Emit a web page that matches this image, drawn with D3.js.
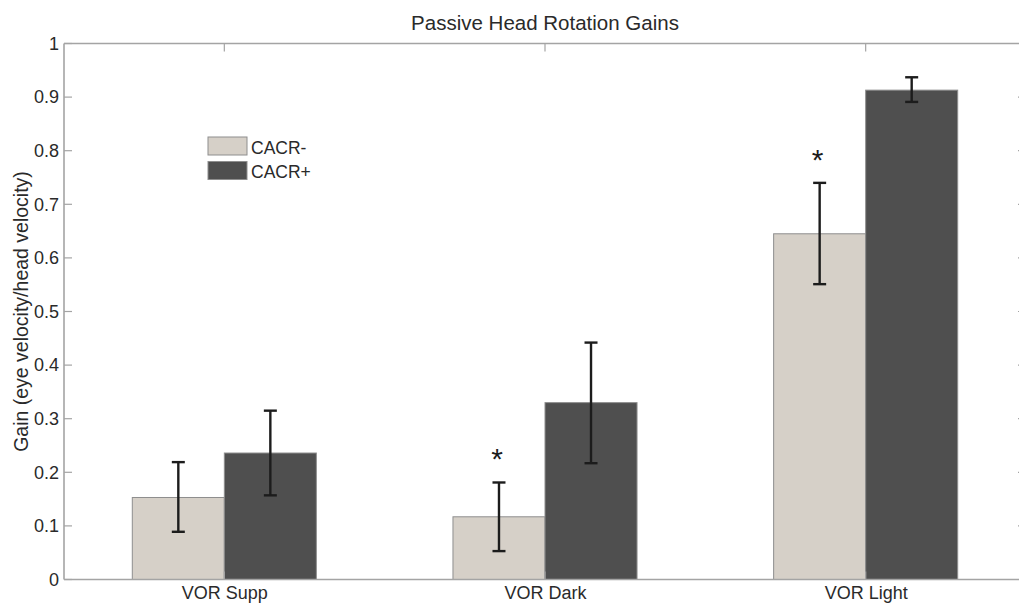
<!DOCTYPE html>
<html>
<head>
<meta charset="utf-8">
<script src="https://cdn.jsdelivr.net/npm/d3@7/dist/d3.min.js"></script>
<style>
  body { margin: 0; background: #fff; }
  svg { display: block; font-family: "Liberation Sans", Arial, Helvetica, sans-serif; }
</style>
</head>
<body>
<svg id="chart" width="1019" height="603"></svg>
<script>
// --- Data ---
const categories = ["VOR Supp", "VOR Dark", "VOR Light"];
const seriesNames = ["CACR-", "CACR+"];
const cacrMinus = [0.153, 0.117, 0.645];
const cacrPlus = [0.236, 0.330, 0.913];
const minusLow = [0.089, 0.053, 0.551];
const minusHigh = [0.219, 0.181, 0.740];
const plusLow = [0.157, 0.217, 0.891];
const plusHigh = [0.315, 0.442, 0.937];
const significant = [false, true, true]; // star above CACR- bar
const yTicks = [0, 0.1, 0.2, 0.3, 0.4, 0.5, 0.6, 0.7, 0.8, 0.9, 1];

const colors = ["#d6d0c8", "#4f4f4f"];
const axisColor = "#a4a4a4";
const textColor = "#2a2a2a";

const svg = d3.select("#chart");

// plot box (right edge falls just outside the picture)
const plotL = 64, plotR = 1026, plotT = 43.5, plotB = 579.5;

const x = d3.scaleLinear().domain([0.5, 3.5]).range([plotL, plotR]);
const y = d3.scaleLinear().domain([0, 1]).range([plotB, plotT]);
const barW = 0.287; // in category units

const series = [
  { name: seriesNames[0], values: cacrMinus, lo: minusLow, hi: minusHigh, offset: -barW / 2 },
  { name: seriesNames[1], values: cacrPlus, lo: plusLow, hi: plusHigh, offset: barW / 2 }
];

// --- Bars ---
series.forEach((s, si) => {
  svg.append("g").selectAll("rect")
    .data(s.values)
    .join("rect")
    .attr("x", (d, i) => x(i + 1 + s.offset - barW / 2))
    .attr("y", d => y(d))
    .attr("width", x(1 + barW) - x(1))
    .attr("height", d => y(0) - y(d))
    .attr("fill", colors[si])
    .attr("stroke", "#8e8e8e")
    .attr("stroke-width", 1);
});

// --- Error bars ---
const capHalf = 6.5;
series.forEach(s => {
  const g = svg.append("g")
    .attr("stroke", "#1c1c1c")
    .attr("stroke-width", 2.4)
    .attr("fill", "none");
  s.values.forEach((d, i) => {
    const cx = x(i + 1 + s.offset);
    g.append("line").attr("x1", cx).attr("x2", cx).attr("y1", y(s.lo[i])).attr("y2", y(s.hi[i]));
    g.append("line").attr("x1", cx - capHalf).attr("x2", cx + capHalf).attr("y1", y(s.hi[i])).attr("y2", y(s.hi[i]));
    g.append("line").attr("x1", cx - capHalf).attr("x2", cx + capHalf).attr("y1", y(s.lo[i])).attr("y2", y(s.lo[i]));
  });
});

// --- Significance stars ---
svg.append("g").selectAll("text")
  .data(categories.map((c, i) => i).filter(i => significant[i]))
  .join("text")
  .attr("x", i => x(i + 1 + series[0].offset) - 2)
  .attr("y", i => y(minusHigh[i]) - 13)
  .attr("text-anchor", "middle")
  .attr("font-size", 30)
  .attr("fill", "#1c1c1c")
  .text("*");

// --- Axes (box style) ---
const gy = svg.append("g").attr("transform", `translate(${plotL},0)`)
  .call(d3.axisLeft(y).tickValues(yTicks).tickSize(0).tickPadding(5)
    .tickFormat(d => String(+d.toFixed(1))));
gy.select(".domain").remove();
gy.selectAll("text").attr("font-size", 18).attr("fill", textColor);
gy.attr("font-family", null);

const gx = svg.append("g").attr("transform", `translate(0,${plotB})`)
  .call(d3.axisBottom(x).tickValues([1, 2, 3]).tickSize(0).tickPadding(7)
    .tickFormat(d => categories[d - 1]));
gx.select(".domain").remove();
gx.selectAll("text").attr("font-size", 18).attr("fill", textColor);
gx.attr("font-family", null);

// frame lines
const frame = svg.append("g").attr("stroke", axisColor).attr("stroke-width", 1.6);
frame.append("line").attr("x1", plotL).attr("x2", plotR).attr("y1", plotB).attr("y2", plotB);
frame.append("line").attr("x1", plotL).attr("x2", plotR).attr("y1", plotT).attr("y2", plotT);
frame.append("line").attr("x1", plotL).attr("x2", plotL).attr("y1", plotT).attr("y2", plotB);
frame.append("line").attr("x1", plotR).attr("x2", plotR).attr("y1", plotT).attr("y2", plotB);

// inward ticks
const tk = svg.append("g").attr("stroke", axisColor).attr("stroke-width", 1.2);
yTicks.forEach(t => {
  tk.append("line").attr("x1", plotL).attr("x2", plotL + 8).attr("y1", y(t)).attr("y2", y(t));
  tk.append("line").attr("x1", plotR).attr("x2", plotR - 8).attr("y1", y(t)).attr("y2", y(t));
});
[1, 2, 3].forEach(c => {
  tk.append("line").attr("x1", x(c)).attr("x2", x(c)).attr("y1", plotT).attr("y2", plotT + 8);
  tk.append("line").attr("x1", x(c)).attr("x2", x(c)).attr("y1", plotB).attr("y2", plotB - 8);
});

// --- Title & y label ---
svg.append("text")
  .attr("x", (plotL + plotR) / 2)
  .attr("y", 29.5)
  .attr("text-anchor", "middle")
  .attr("font-size", 20.5)
  .attr("fill", textColor)
  .text("Passive Head Rotation Gains");

svg.append("text")
  .attr("transform", `translate(28,${(plotT + plotB) / 2}) rotate(-90)`)
  .attr("text-anchor", "middle")
  .attr("font-size", 19.5)
  .attr("fill", textColor)
  .text("Gain (eye velocity/head velocity)");

// --- Legend ---
const legend = svg.append("g").attr("transform", "translate(208,137)");
seriesNames.forEach((name, i) => {
  const row = legend.append("g").attr("transform", `translate(0,${i * 24.5})`);
  row.append("rect")
    .attr("width", 39).attr("height", 18)
    .attr("fill", colors[i])
    .attr("stroke", "#8e8e8e");
  row.append("text")
    .attr("x", 43).attr("y", 16.5)
    .attr("font-size", 17.5)
    .attr("fill", textColor)
    .text(name);
});
</script>
</body>
</html>
